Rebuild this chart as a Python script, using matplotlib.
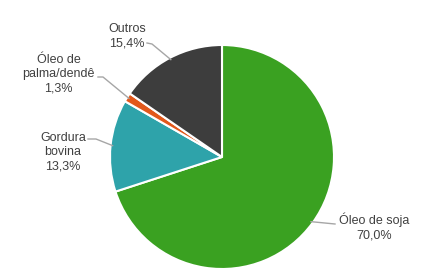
import matplotlib.pyplot as plt
import numpy as np

labels = ["Óleo de soja", "Gordura\nbovina", "Óleo de\npalma/dendê", "Outros"]
shares = [70.0, 13.3, 1.3, 15.4]
colors = ["#3AA121", "#2EA3AA", "#E2581B", "#3D3D3D"]

# label placement (pixels, origin bottom-left), and where the leader meets the text
text_pos = [(374, 48), (63, 123), (58.5, 201), (127, 239)]
leader_end = [(335, 51), (96, 136), (103, 198), (152, 231)]
leader_tip = [(335, 51), (88, 136), (98, 198), (147, 232)]

plt.rcParams["font.family"] = ["Liberation Sans", "DejaVu Sans"]

fig = plt.figure(figsize=(4.44, 2.75), dpi=100)
ax = fig.add_axes([0, 0, 1, 1])

cx, cy, r = 222, 118, 112
wedges, _ = ax.pie(shares, colors=colors, startangle=90, counterclock=False,
                   center=(cx, cy), radius=r, frame=True,
                   wedgeprops=dict(edgecolor="white", linewidth=1.5))
ax.set_xlim(0, 444)
ax.set_ylim(0, 275)
ax.set_aspect("equal")
ax.axis("off")

for w, lab, v, tp, le, lt in zip(wedges, labels, shares, text_pos, leader_end, leader_tip):
    ang = np.deg2rad((w.theta1 + w.theta2) / 2)
    x0 = cx + (r - 2) * np.cos(ang)
    y0 = cy + (r - 2) * np.sin(ang)
    ax.plot([x0, le[0], lt[0]], [y0, le[1], lt[1]], color="#A6A6A6", lw=1)
    txt = lab + "\n" + f"{v:.1f}%".replace(".", ",")
    ax.text(tp[0], tp[1], txt, ha="center", va="center", fontsize=9,
            color="#404040", linespacing=1.27)

fig.savefig("out.png", dpi=100)
